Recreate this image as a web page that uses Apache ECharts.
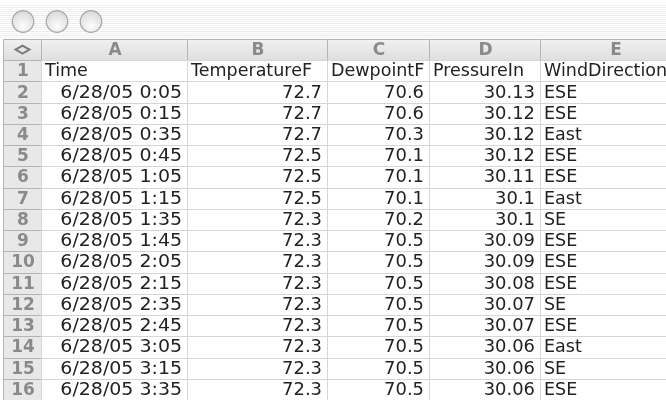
<!DOCTYPE html>
<html>
<head>
<meta charset="utf-8">
<script src="https://cdn.jsdelivr.net/npm/echarts@6/dist/echarts.min.js"></script>
<style>
  html, body { margin: 0; padding: 0; background: #fff; }
  #sheet { width: 666px; height: 403px; }
</style>
</head>
<body>
<div id="sheet"></div>
<script>
// sheet content
const columnLetters = ['A', 'B', 'C', 'D', 'E'];
const headers = ['Time', 'TemperatureF', 'DewpointF', 'PressureIn', 'WindDirection'];
const times = ['6/28/05 0:05', '6/28/05 0:15', '6/28/05 0:35', '6/28/05 0:45', '6/28/05 1:05',
  '6/28/05 1:15', '6/28/05 1:35', '6/28/05 1:45', '6/28/05 2:05', '6/28/05 2:15',
  '6/28/05 2:35', '6/28/05 2:45', '6/28/05 3:05', '6/28/05 3:15', '6/28/05 3:35'];
const temperatureF = [72.7, 72.7, 72.7, 72.5, 72.5, 72.5, 72.3, 72.3, 72.3, 72.3, 72.3, 72.3, 72.3, 72.3, 72.3];
const dewpointF = [70.6, 70.6, 70.3, 70.1, 70.1, 70.1, 70.2, 70.5, 70.5, 70.5, 70.5, 70.5, 70.5, 70.5, 70.5];
const pressureIn = [30.13, 30.12, 30.12, 30.12, 30.11, 30.1, 30.1, 30.09, 30.09, 30.08, 30.07, 30.07, 30.06, 30.06, 30.06];
const windDirection = ['ESE', 'ESE', 'East', 'ESE', 'ESE', 'East', 'SE', 'ESE', 'ESE', 'ESE', 'SE', 'ESE', 'East', 'SE', 'ESE'];

// layout: column edges in x-axis units (row-number column first)
const colEdges = [3, 41, 187, 327, 429, 540, 690];
const FONT = '"DejaVu Sans", Verdana, sans-serif';
// the old Mac font is wider than DejaVu, so stretch the glyphs a bit
const stretch = { date: 1.115, num: 1.055, left: 1.03 };

const rowNames = ['corner'];
for (let i = 1; i <= times.length + 1; i++) rowNames.push(String(i));

// cells: [colIndex, rowIndex, text, kind]
const cells = [];
cells.push([0, 0, '', 'corner']);
columnLetters.forEach((l, i) => cells.push([i + 1, 0, l, 'colhead']));
for (let r = 1; r < rowNames.length; r++) cells.push([0, r, rowNames[r], 'rowhead']);
headers.forEach((h, i) => cells.push([i + 1, 1, h, 'left']));
times.forEach((t, i) => {
  const r = i + 2;
  cells.push([1, r, t, 'date']);
  cells.push([2, r, String(temperatureF[i]), 'num']);
  cells.push([3, r, String(dewpointF[i]), 'num']);
  cells.push([4, r, String(pressureIn[i]), 'num']);
  cells.push([5, r, windDirection[i], 'left']);
});

const renderCell = (params, api) => {
  const c = api.value(0);
  const r = api.value(1);
  const item = cells[params.dataIndex];
  const text = item[2], kind = item[3];
  const x0 = Math.round(api.coord([colEdges[c], r])[0]);
  const x1 = Math.round(api.coord([colEdges[c + 1], r])[0]);
  const yc = api.coord([0, r])[1];
  const h = api.size([0, 1])[1];
  const y0 = Math.round(yc - h / 2);
  const y1 = Math.round(yc + h / 2);
  const isHead = kind === 'corner' || kind === 'colhead' || kind === 'rowhead';

  const children = [{
    type: 'rect',
    shape: { x: x0 + 0.5, y: y0 + 0.5, width: x1 - x0, height: y1 - y0 },
    style: {
      fill: isHead ? (kind === 'colhead' || kind === 'corner'
        ? new echarts.graphic.LinearGradient(0, 0, 0, 1, [{ offset: 0, color: '#f1f1f1' }, { offset: 1, color: '#dedede' }])
        : '#e8e8e8') : '#ffffff',
      stroke: isHead ? '#b4b4b4' : '#d6d6d6',
      lineWidth: 1
    }
  }];

  if (kind === 'corner') {
    const cx = (x0 + x1) / 2 + 0.5, cy = yc;
    children.push({
      type: 'polygon',
      shape: { points: [[cx - 7, cy], [cx, cy - 4], [cx + 7, cy], [cx, cy + 4]] },
      style: { fill: 'none', stroke: '#7a7a7a', lineWidth: 2 }
    });
  } else {
    let tx, align;
    if (isHead) { tx = (x0 + x1) / 2 + 1; align = 'center'; }
    else if (kind === 'left') { tx = x0 + 4; align = 'left'; }
    else { tx = x1 - 5; align = 'right'; }
    children.push({
      type: 'text',
      x: tx, y: yc + 1,
      scaleX: isHead ? 1 : stretch[kind],
      style: {
        x: 0, y: 0,
        text: text,
        align: align,
        verticalAlign: 'middle',
        font: (isHead ? 'bold ' : '') + '17px ' + FONT,
        fill: isHead ? '#8a8a8a' : '#222222'
      }
    });
  }
  return { type: 'group', children: children };
};

// window chrome: pinstriped title bar and three buttons
const chrome = [];
for (let y = 5; y < 39; y += 2) {
  chrome.push({ type: 'rect', shape: { x: 0, y: y, width: 666, height: 1 }, style: { fill: y % 4 === 1 ? '#f1f1f1' : '#ebebeb' }, silent: true });
}
[23, 57, 91].forEach(cx => {
  chrome.push({
    type: 'circle',
    shape: { cx: cx, cy: 21.5, r: 10.8 },
    style: {
      fill: new echarts.graphic.RadialGradient(0.5, 0.7, 0.65, [{ offset: 0, color: '#fdfdfd' }, { offset: 1, color: '#dadada' }]),
      stroke: '#a8a8a8', lineWidth: 1.2
    },
    silent: true
  });
});

const chart = echarts.init(document.getElementById('sheet'));
chart.setOption({
  animation: false,
  backgroundColor: '#ffffff',
  graphic: chrome,
  grid: { left: 0, right: 0, top: 39, bottom: 3 },
  xAxis: { type: 'value', min: 0, max: 666, show: false },
  yAxis: { type: 'category', data: rowNames, inverse: true, show: false },
  series: [{
    type: 'custom',
    renderItem: renderCell,
    clip: true,
    data: cells.map(c => [c[0], c[1]])
  }]
});
</script>
</body>
</html>
